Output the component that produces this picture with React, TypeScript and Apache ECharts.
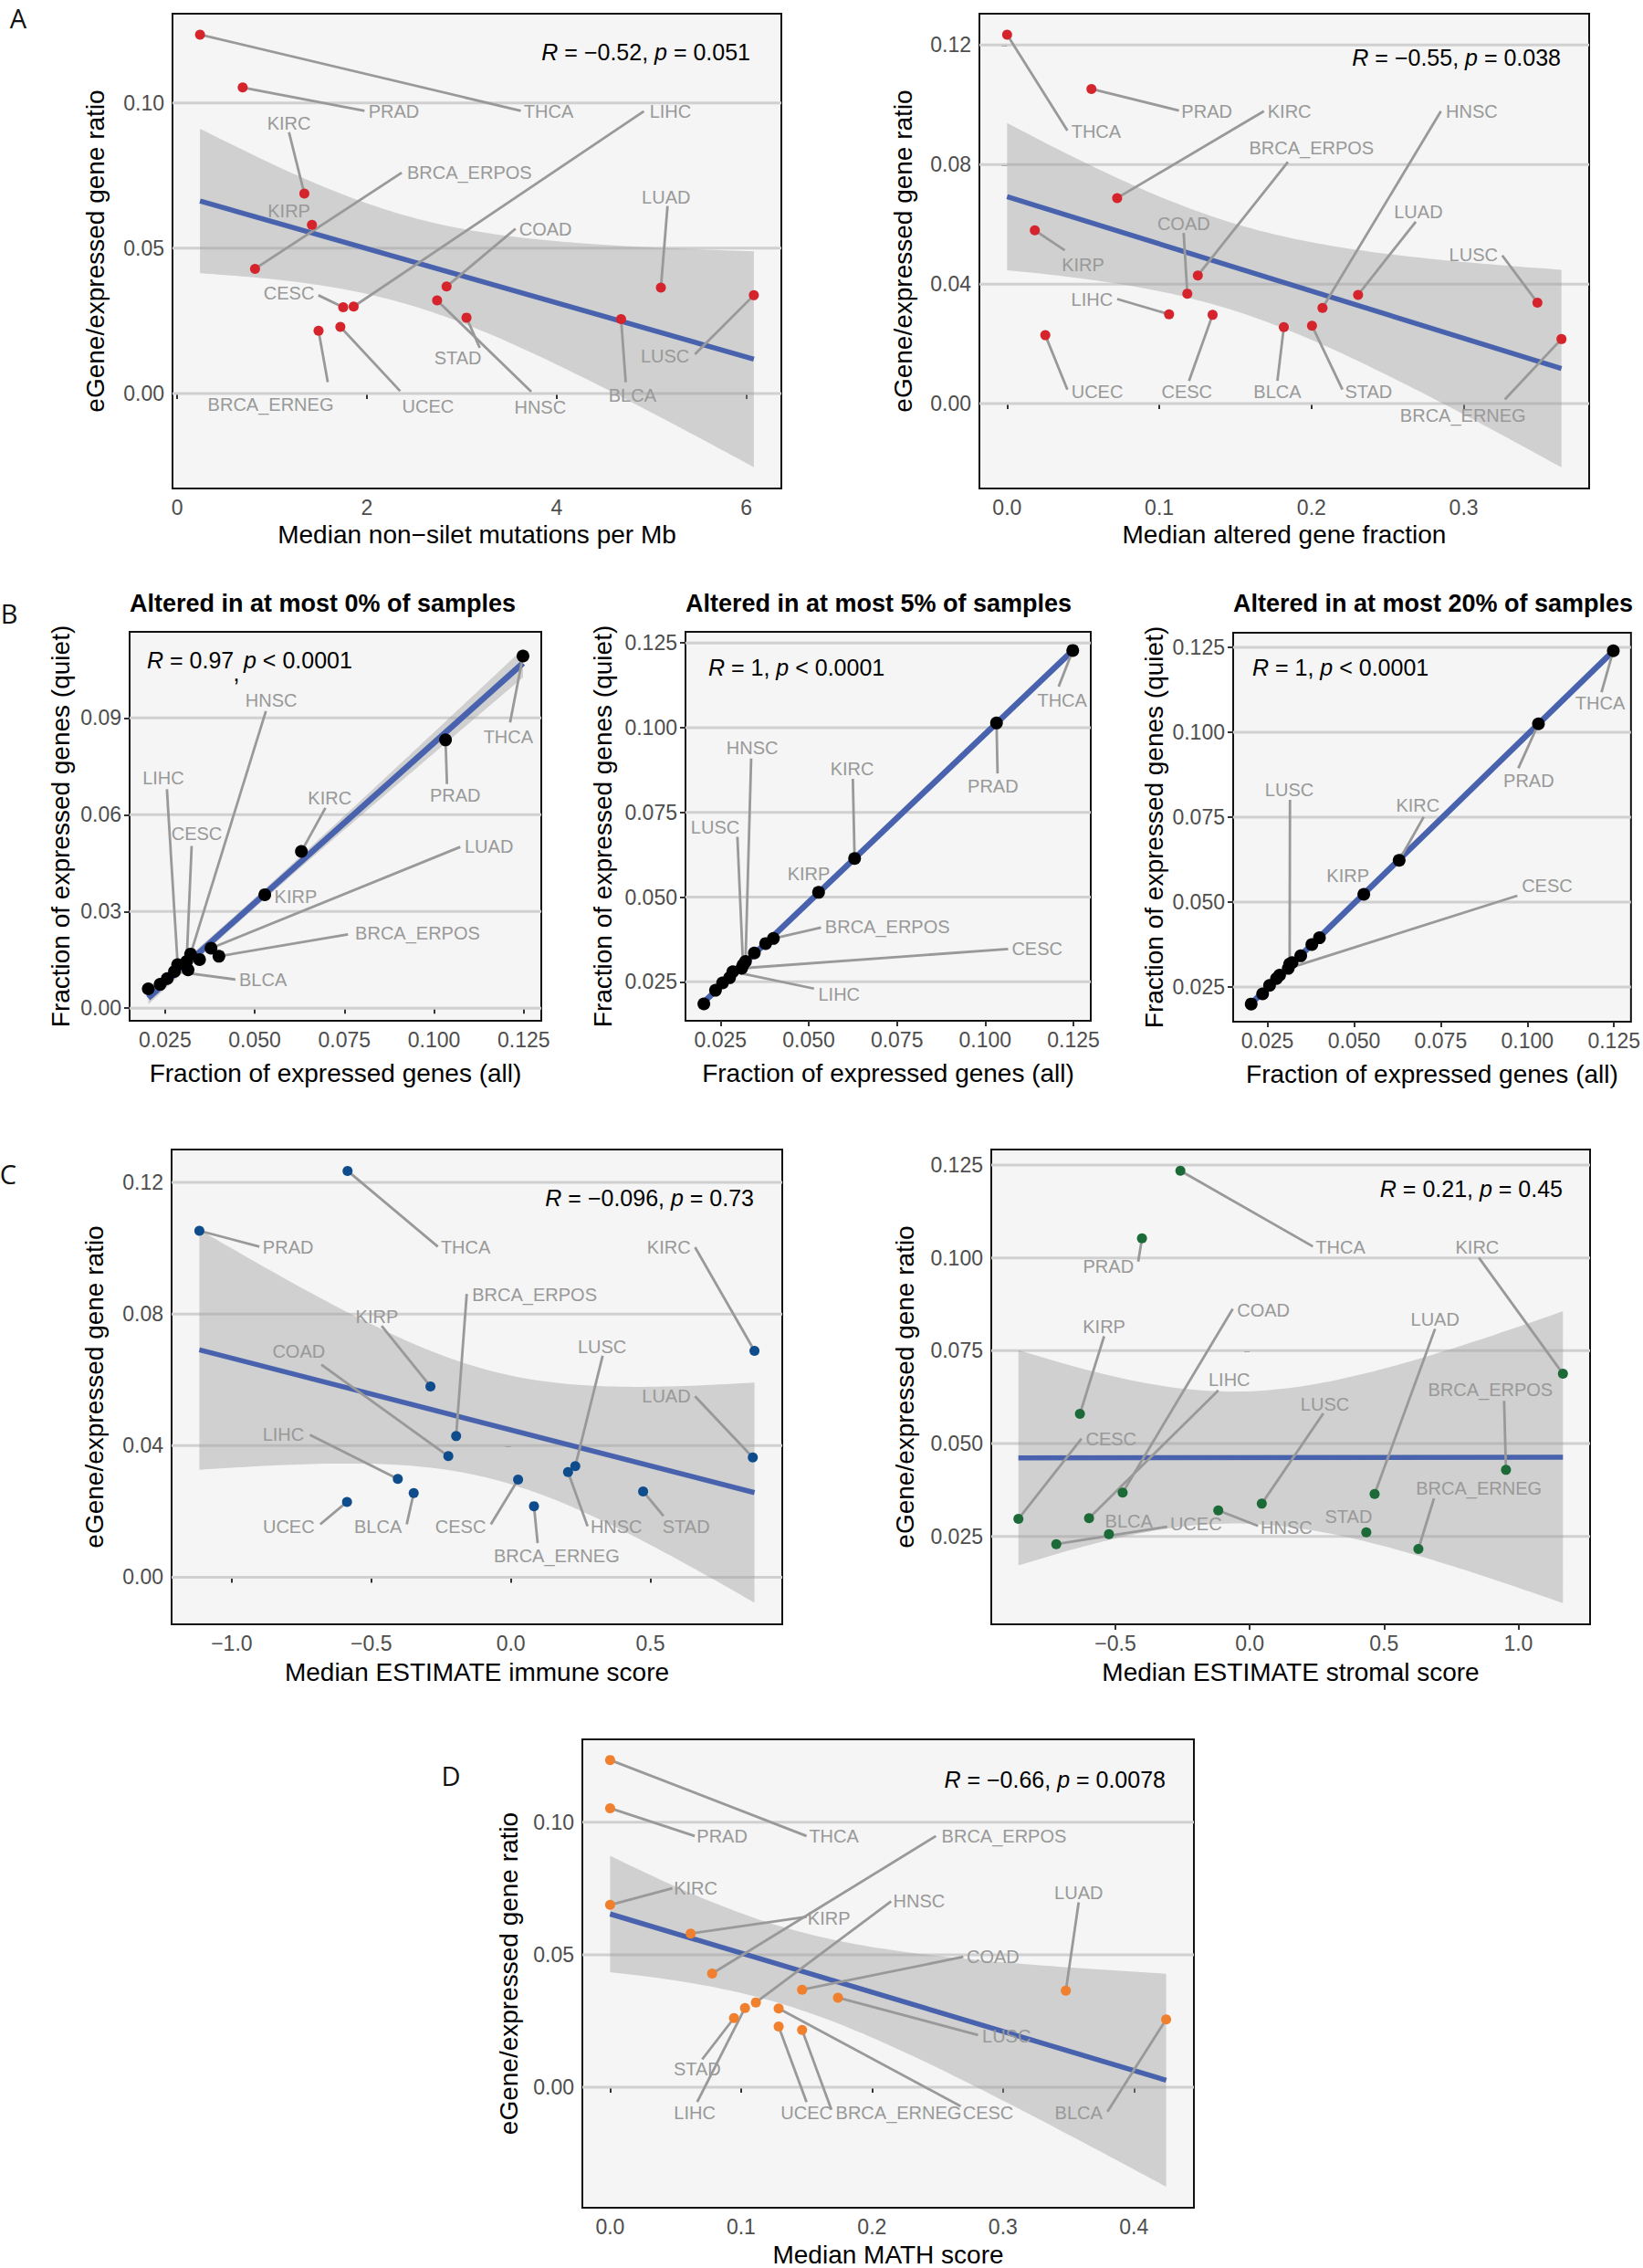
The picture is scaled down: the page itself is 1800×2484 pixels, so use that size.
import React, { useEffect, useRef } from "react";
import * as echarts from "echarts";

const FONT = "'Liberation Sans', Arial, Helvetica, sans-serif";

// ---------------- data ----------------
const cancers = ["THCA", "PRAD", "KIRC", "KIRP", "BRCA_ERPOS", "COAD", "LUAD", "LUSC", "HNSC", "CESC", "LIHC", "STAD", "BLCA", "UCEC", "BRCA_ERNEG"];

const eGeneRatio = [0.1235, 0.1053, 0.0688, 0.0580, 0.0429, 0.0368, 0.0364, 0.0338, 0.0320, 0.0297, 0.0299, 0.0261, 0.0256, 0.0229, 0.0216];
const mutationsPerMb = [0.24, 0.69, 1.34, 1.42, 0.82, 2.84, 5.10, 6.08, 2.74, 1.75, 1.86, 3.05, 4.68, 1.72, 1.49];
const alteredFraction = [0.0, 0.0554, 0.0723, 0.0182, 0.1253, 0.1184, 0.2306, 0.3484, 0.2072, 0.1350, 0.1064, 0.2003, 0.1818, 0.0251, 0.3642];
const immuneScore = [-0.585, -1.116, 0.873, -0.288, -0.196, -0.224, 0.867, 0.231, 0.205, 0.026, -0.405, 0.474, -0.348, -0.587, 0.083];
const stromalScore = [-0.258, -0.401, 1.166, -0.632, 0.954, -0.473, 0.465, 0.045, -0.117, -0.861, -0.598, 0.434, -0.524, -0.720, 0.628];
const mathScore = [0.0, 0.0, 0.0, 0.0615, 0.0779, 0.1466, 0.348, 0.174, 0.1113, 0.1287, 0.103, 0.0946, 0.4246, 0.1287, 0.1466];

const fracAll = [0.1248, 0.1032, 0.0630, 0.0528, 0.0400, 0.0346, 0.0378, 0.0314, 0.0321, 0.0310, 0.0285, 0.0256, 0.0276, 0.0236, 0.0203];
const fracQuiet0 = [0.1092, 0.0832, 0.0486, 0.0352, 0.0161, 0.0151, 0.0186, 0.0119, 0.0168, 0.0145, 0.0135, 0.0092, 0.0114, 0.0074, 0.0060];
const fracQuiet5 = [0.1228, 0.1014, 0.0614, 0.0514, 0.0378, 0.0335, 0.0363, 0.0300, 0.0310, 0.0290, 0.0280, 0.0247, 0.0262, 0.0225, 0.0185];
const fracQuiet20 = [0.1240, 0.1025, 0.0623, 0.0523, 0.0395, 0.0342, 0.0375, 0.0318, 0.0322, 0.0305, 0.0285, 0.0255, 0.0275, 0.0230, 0.0200];

// tick values
const ticksMut = [0, 2, 4, 6];
const ticksRatio005 = [0, 0.05, 0.1];
const ticksAltered = [0, 0.1, 0.2, 0.3];
const ticksRatio004 = [0, 0.04, 0.08, 0.12];
const ticksFrac = [0.025, 0.05, 0.075, 0.1, 0.125];
const ticksQuiet0 = [0, 0.03, 0.06, 0.09];
const ticksImmune = [-1, -0.5, 0, 0.5];
const ticksStromal = [-0.5, 0, 0.5, 1];
const ticksRatio025 = [0.025, 0.05, 0.075, 0.1, 0.125];
const ticksMath = [0, 0.1, 0.2, 0.3, 0.4];

// repelled labels: [cancer, labelX, labelY, segmentEndX, segmentEndY]
type Lab = [string, number, number, number | null, number | null];

const labelsMut: Lab[] = [
  ["THCA", 3.916, 0.0971, 3.623, 0.0973],
  ["PRAD", 2.284, 0.0971, 1.975, 0.0973],
  ["LIHC", 5.2, 0.0971, 4.92, 0.0971],
  ["KIRC", 1.178, 0.0929, 1.178, 0.0899],
  ["BRCA_ERPOS", 3.081, 0.076, 2.367, 0.076],
  ["LUAD", 5.155, 0.0676, 5.17, 0.0645],
  ["KIRP", 1.178, 0.0627, null, null],
  ["COAD", 3.883, 0.0565, 3.567, 0.0567],
  ["CESC", 1.178, 0.0344, 1.488, 0.0338],
  ["STAD", 2.959, 0.0123, 3.19, 0.0157],
  ["LUSC", 5.144, 0.013, 5.459, 0.0135],
  ["BRCA_ERNEG", 0.985, -0.0039, 1.587, 0.0039],
  ["UCEC", 2.644, -0.0045, 2.351, 0.0008],
  ["HNSC", 3.827, -0.0048, 3.733, 0.0006],
  ["BLCA", 4.8, -0.0008, 4.729, 0.0039],
];

const labelsAltered: Lab[] = [
  ["THCA", 0.0585, 0.0912, 0.0396, 0.0914],
  ["PRAD", 0.1312, 0.0979, 0.1129, 0.0981],
  ["KIRC", 0.1855, 0.0979, 0.1687, 0.0979],
  ["BRCA_ERPOS", 0.2, 0.0855, 0.1845, 0.0809],
  ["HNSC", 0.3053, 0.0979, 0.285, 0.0979],
  ["COAD", 0.116, 0.0601, 0.116, 0.0571],
  ["LUAD", 0.2702, 0.0643, 0.2685, 0.0609],
  ["LUSC", 0.3064, 0.0498, 0.3253, 0.0496],
  ["KIRP", 0.0499, 0.0466, 0.0379, 0.0513],
  ["LIHC", 0.0558, 0.035, 0.0723, 0.035],
  ["UCEC", 0.0592, 0.0039, 0.0396, 0.0047],
  ["CESC", 0.1181, 0.0039, 0.1195, 0.0076],
  ["BLCA", 0.1776, 0.0039, 0.1776, 0.0076],
  ["STAD", 0.2375, 0.0039, 0.2203, 0.0047],
  ["BRCA_ERNEG", 0.2995, -0.0039, 0.327, 0.0014],
];

const labelsQuiet0: Lab[] = [
  ["HNSC", 0.0546, 0.0956, 0.0531, 0.0921],
  ["LIHC", 0.0245, 0.0714, 0.0255, 0.0679],
  ["CESC", 0.0338, 0.0542, 0.0324, 0.0503],
  ["KIRC", 0.0709, 0.0651, 0.0697, 0.0621],
  ["THCA", 0.1207, 0.0842, 0.1212, 0.0886],
  ["PRAD", 0.1059, 0.0661, 0.1036, 0.0695],
  ["LUAD", 0.1153, 0.0502, 0.1073, 0.05],
  ["KIRP", 0.0614, 0.0345, null, null],
  ["BRCA_ERPOS", 0.0954, 0.0234, 0.076, 0.0229],
  ["BLCA", 0.0523, 0.0089, 0.0446, 0.0089],
];

const labelsQuiet5: Lab[] = [
  ["THCA", 0.1218, 0.108, 0.1208, 0.1121],
  ["PRAD", 0.1022, 0.0827, 0.1035, 0.0865],
  ["KIRC", 0.0623, 0.0879, 0.0625, 0.0849],
  ["HNSC", 0.034, 0.094, 0.0337, 0.0909],
  ["LUSC", 0.0235, 0.0706, 0.0298, 0.0678],
  ["KIRP", 0.05, 0.0569, null, null],
  ["BRCA_ERPOS", 0.0723, 0.0412, 0.0535, 0.041],
  ["CESC", 0.1147, 0.0347, 0.1065, 0.0347],
  ["LIHC", 0.0586, 0.0212, 0.0515, 0.023],
];

const labelsQuiet20: Lab[] = [
  ["THCA", 0.121, 0.1085, 0.1214, 0.1118],
  ["PRAD", 0.1004, 0.0858, 0.0974, 0.0894],
  ["KIRC", 0.0684, 0.0786, 0.0701, 0.0751],
  ["KIRP", 0.0482, 0.0578, null, null],
  ["LUSC", 0.0313, 0.0831, 0.0315, 0.0801],
  ["CESC", 0.1057, 0.0548, 0.0971, 0.0519],
];

const labelsImmune: Lab[] = [
  ["PRAD", -0.798, 0.1003, -0.901, 0.1005],
  ["THCA", -0.162, 0.1003, -0.2615, 0.1005],
  ["KIRC", 0.566, 0.1003, 0.66, 0.1003],
  ["BRCA_ERPOS", 0.085, 0.0859, -0.158, 0.0861],
  ["KIRP", -0.48, 0.0792, -0.463, 0.0764],
  ["COAD", -0.76, 0.0686, -0.679, 0.0646],
  ["LUSC", 0.327, 0.07, 0.329, 0.0673],
  ["LUAD", 0.557, 0.0551, 0.66, 0.055],
  ["LIHC", -0.815, 0.0433, -0.72, 0.0433],
  ["UCEC", -0.796, 0.0153, -0.683, 0.0161],
  ["BLCA", -0.476, 0.0153, -0.373, 0.0161],
  ["CESC", -0.18, 0.0153, -0.0715, 0.0161],
  ["HNSC", 0.378, 0.0153, 0.275, 0.0155],
  ["STAD", 0.628, 0.0155, 0.547, 0.0186],
  ["BRCA_ERNEG", 0.164, 0.0065, 0.096, 0.0104],
];

const labelsStromal: Lab[] = [
  ["THCA", 0.338, 0.1029, 0.235, 0.1031],
  ["KIRC", 0.847, 0.1029, 0.853, 0.1001],
  ["PRAD", -0.526, 0.0978, -0.415, 0.099],
  ["COAD", 0.051, 0.086, -0.063, 0.0863],
  ["KIRP", -0.542, 0.0814, -0.542, 0.0789],
  ["LUAD", 0.69, 0.0834, 0.69, 0.0809],
  ["LIHC", -0.076, 0.0673, -0.117, 0.0643],
  ["LUSC", 0.28, 0.0605, 0.274, 0.0581],
  ["BRCA_ERPOS", 0.896, 0.0645, 0.947, 0.0615],
  ["CESC", -0.516, 0.0513, -0.626, 0.0513],
  ["BRCA_ERNEG", 0.853, 0.0379, 0.686, 0.0352],
  ["BLCA", -0.45, 0.0291, null, null],
  ["UCEC", -0.2, 0.0284, -0.307, 0.0276],
  ["HNSC", 0.137, 0.0273, 0.031, 0.0278],
  ["STAD", 0.368, 0.0304, null, null],
];

const labelsMath: Lab[] = [
  ["PRAD", 0.0855, 0.0948, 0.0646, 0.0948],
  ["THCA", 0.1709, 0.0948, 0.15, 0.0948],
  ["BRCA_ERPOS", 0.3008, 0.0948, 0.2488, 0.0948],
  ["KIRC", 0.0653, 0.0751, 0.0475, 0.0751],
  ["HNSC", 0.2359, 0.0702, 0.2146, 0.0702],
  ["LUAD", 0.3578, 0.0735, 0.3578, 0.0698],
  ["KIRP", 0.1671, 0.0639, 0.15, 0.0643],
  ["COAD", 0.2924, 0.0492, 0.2697, 0.0492],
  ["LUSC", 0.3027, 0.0193, 0.281, 0.0197],
  ["STAD", 0.0665, 0.0068, 0.0703, 0.0105],
  ["LIHC", 0.0646, -0.0096, 0.0665, -0.0056],
  ["UCEC", 0.15, -0.0096, 0.15, -0.0056],
  ["BRCA_ERNEG", 0.2203, -0.0096, 0.169, -0.0085],
  ["CESC", 0.2886, -0.0096, 0.2678, -0.0072],
  ["BLCA", 0.3578, -0.0096, 0.3798, -0.0092],
];

// ---------------- layout ----------------
interface Panel {
  left: number; top: number; width: number; height: number;
  xs: number[]; ys: number[];
  xMin: number; xMax: number; yMin: number; yMax: number;
  xTicks: number[]; yTicks: number[]; xDec: number; yDec: number;
  xName: string; yName: string; xNameGap: number; yNameGap: number;
  color: string; size: number; lineWidth: number; labels: Lab[];
}

const YLAB = "eGene/expressed gene ratio";
const YQ = "Fraction of expressed genes (quiet)";
const XA = "Fraction of expressed genes (all)";

const panels: Panel[] = [
  { left: 189, top: 15, width: 667, height: 520, xs: mutationsPerMb, ys: eGeneRatio, xMin: -0.05, xMax: 6.37, yMin: -0.0327, yMax: 0.1307,
    xTicks: ticksMut, yTicks: ticksRatio005, xDec: 0, yDec: 2, xName: "Median non\u2212silet mutations per Mb", yName: YLAB, xNameGap: 36, yNameGap: 71,
    color: "#D5242B", size: 11, lineWidth: 5.5, labels: labelsMut },
  { left: 1073, top: 15, width: 668, height: 520, xs: alteredFraction, ys: eGeneRatio, xMin: -0.0182, xMax: 0.3824, yMin: -0.0284, yMax: 0.1305,
    xTicks: ticksAltered, yTicks: ticksRatio004, xDec: 1, yDec: 2, xName: "Median altered gene fraction", yName: YLAB, xNameGap: 36, yNameGap: 70,
    color: "#D5242B", size: 11, lineWidth: 5.5, labels: labelsAltered },
  { left: 142, top: 692, width: 451, height: 426, xs: fracAll, ys: fracQuiet0, xMin: 0.0151, xMax: 0.1299, yMin: -0.0039, yMax: 0.1167,
    xTicks: ticksFrac, yTicks: ticksQuiet0, xDec: 3, yDec: 2, xName: XA, yName: YQ, xNameGap: 43, yNameGap: 62,
    color: "#000000", size: 14, lineWidth: 6.5, labels: labelsQuiet0 },
  { left: 751, top: 692, width: 444, height: 426, xs: fracAll, ys: fracQuiet5, xMin: 0.0151, xMax: 0.1299, yMin: 0.0135, yMax: 0.1283,
    xTicks: ticksFrac, yTicks: ticksFrac, xDec: 3, yDec: 3, xName: XA, yName: YQ, xNameGap: 43, yNameGap: 77,
    color: "#000000", size: 14, lineWidth: 6.5, labels: labelsQuiet5 },
  { left: 1351, top: 693, width: 442, height: 426, xs: fracAll, ys: fracQuiet20, xMin: 0.0151, xMax: 0.1299, yMin: 0.0148, yMax: 0.1293,
    xTicks: ticksFrac, yTicks: ticksFrac, xDec: 3, yDec: 3, xName: XA, yName: YQ, xNameGap: 43, yNameGap: 73,
    color: "#000000", size: 14, lineWidth: 6.5, labels: labelsQuiet20 },
  { left: 188, top: 1259, width: 669, height: 520, xs: immuneScore, ys: eGeneRatio, xMin: -1.2155, xMax: 0.9725, yMin: -0.0143, yMax: 0.130,
    xTicks: ticksImmune, yTicks: ticksRatio004, xDec: 1, yDec: 2, xName: "Median ESTIMATE immune score", yName: YLAB, xNameGap: 38, yNameGap: 71,
    color: "#0E4C8B", size: 11, lineWidth: 5.5, labels: labelsImmune },
  { left: 1086, top: 1259, width: 656, height: 520, xs: stromalScore, ys: eGeneRatio, xMin: -0.962, xMax: 1.267, yMin: 0.0013, yMax: 0.1292,
    xTicks: ticksStromal, yTicks: ticksRatio025, xDec: 1, yDec: 3, xName: "Median ESTIMATE stromal score", yName: YLAB, xNameGap: 38, yNameGap: 81,
    color: "#1B6A37", size: 11, lineWidth: 5.5, labels: labelsStromal },
  { left: 638, top: 1905, width: 670, height: 521, xs: mathScore, ys: eGeneRatio, xMin: -0.0212, xMax: 0.4458, yMin: -0.0455, yMax: 0.1313,
    xTicks: ticksMath, yTicks: ticksRatio005, xDec: 1, yDec: 2, xName: "Median MATH score", yName: YLAB, xNameGap: 37, yNameGap: 67,
    color: "#F07F2E", size: 11, lineWidth: 5.5, labels: labelsMath },
];

// ---------------- helpers ----------------
function fmt(v: number, dec: number) {
  const s = Math.abs(v).toFixed(dec);
  return v < -1e-9 ? "\u2212" + s : s;
}

const T975: Record<number, number> = { 13: 2.1604 };

// ordinary least squares fit with 95% confidence band (as geom_smooth(method = "lm"))
function lmFit(xs: number[], ys: number[]) {
  const n = xs.length;
  const mx = xs.reduce((a, b) => a + b, 0) / n;
  const my = ys.reduce((a, b) => a + b, 0) / n;
  let sxx = 0, sxy = 0;
  for (let i = 0; i < n; i++) {
    sxx += (xs[i] - mx) * (xs[i] - mx);
    sxy += (xs[i] - mx) * (ys[i] - my);
  }
  const b = sxy / sxx;
  const a = my - b * mx;
  let sse = 0;
  for (let i = 0; i < n; i++) {
    const r = ys[i] - (a + b * xs[i]);
    sse += r * r;
  }
  const s = Math.sqrt(sse / (n - 2));
  const t = T975[n - 2] || 2.16;
  const x0 = Math.min(...xs);
  const x1 = Math.max(...xs);
  const band: number[][] = [];
  const N = 80;
  for (let k = 0; k < N; k++) {
    const x = x0 + ((x1 - x0) * k) / (N - 1);
    const yh = a + b * x;
    const se = s * Math.sqrt(1 / n + ((x - mx) * (x - mx)) / sxx);
    band.push([x, yh - t * se, yh + t * se]);
  }
  return { a, b, x0, x1, band };
}

function buildOption() {
  const grid: any[] = [];
  const xAxis: any[] = [];
  const yAxis: any[] = [];
  const series: any[] = [];

  panels.forEach((p, i) => {
    grid.push({
      left: p.left, top: p.top, width: p.width, height: p.height,
      show: true, backgroundColor: "#F4F5F4", borderColor: "#111111", borderWidth: 2,
    });
    xAxis.push({
      type: "value", gridIndex: i, min: p.xMin, max: p.xMax,
      axisLine: { show: false }, splitLine: { show: false },
      axisTick: { show: true, customValues: p.xTicks, length: 6, lineStyle: { color: "#333333", width: 2 } },
      axisLabel: { customValues: p.xTicks, formatter: (v: number) => fmt(v, p.xDec), color: "#4D4D4D", fontSize: 23, margin: 9, fontFamily: FONT },
      name: p.xName, nameLocation: "middle", nameGap: p.xNameGap,
      nameTextStyle: { fontSize: 28, color: "#000000", fontFamily: FONT },
    });
    yAxis.push({
      type: "value", gridIndex: i, min: p.yMin, max: p.yMax,
      axisLine: { show: false }, splitLine: { show: false },
      axisTick: { show: true, customValues: p.yTicks, length: 6, lineStyle: { color: "#333333", width: 2 } },
      axisLabel: { customValues: p.yTicks, formatter: (v: number) => fmt(v, p.yDec), color: "#4D4D4D", fontSize: 23, margin: 9, fontFamily: FONT },
      name: p.yName, nameLocation: "middle", nameGap: p.yNameGap,
      nameTextStyle: { fontSize: 28, color: "#000000", fontFamily: FONT },
    });

    const f = lmFit(p.xs, p.ys);

    // gridlines + confidence ribbon
    series.push({
      type: "custom", xAxisIndex: i, yAxisIndex: i, z: 1, silent: true,
      data: [[f.x0, f.a + f.b * f.x0]],
      renderItem: (_params: any, api: any) => {
        const children: any[] = [];
        p.yTicks.forEach((t) => {
          const s0 = api.coord([p.xMin, t]);
          const s1 = api.coord([p.xMax, t]);
          children.push({ type: "line", shape: { x1: s0[0], y1: s0[1], x2: s1[0], y2: s1[1] }, style: { stroke: "#D0D0D0", lineWidth: 3 } });
        });
        const up = f.band.map((r) => api.coord([r[0], r[2]]));
        const lo = f.band.slice().reverse().map((r) => api.coord([r[0], r[1]]));
        children.push({ type: "polygon", shape: { points: up.concat(lo) }, style: { fill: "rgba(153,153,153,0.4)" } });
        return { type: "group", children };
      },
    });

    // regression line
    series.push({
      type: "line", xAxisIndex: i, yAxisIndex: i, z: 3, silent: true, symbol: "none",
      data: [[f.x0, f.a + f.b * f.x0], [f.x1, f.a + f.b * f.x1]],
      lineStyle: { color: "#4862AD", width: p.lineWidth },
    });

    // repel segments
    const segs = p.labels
      .filter((l) => l[3] !== null)
      .map((l) => {
        const k = cancers.indexOf(l[0]);
        return [p.xs[k], p.ys[k], l[3] as number, l[4] as number];
      });
    series.push({
      type: "custom", xAxisIndex: i, yAxisIndex: i, z: 4, silent: true,
      data: segs,
      renderItem: (_params: any, api: any) => {
        const s0 = api.coord([api.value(0), api.value(1)]);
        const s1 = api.coord([api.value(2), api.value(3)]);
        return { type: "line", shape: { x1: s0[0], y1: s0[1], x2: s1[0], y2: s1[1] }, style: { stroke: "#999999", lineWidth: 2.8 } };
      },
    });

    // labels
    series.push({
      type: "custom", xAxisIndex: i, yAxisIndex: i, z: 5, silent: true,
      data: p.labels.map((l) => [l[1], l[2]]),
      renderItem: (params: any, api: any) => {
        const c = api.coord([api.value(0), api.value(1)]);
        return {
          type: "text", x: c[0], y: c[1],
          style: { text: p.labels[params.dataIndex][0], fill: "#999999", fontSize: 20, fontFamily: FONT, align: "center", verticalAlign: "middle" },
        };
      },
    });

    // points
    series.push({
      type: "scatter", xAxisIndex: i, yAxisIndex: i, z: 6, silent: true,
      data: p.xs.map((x, k) => [x, p.ys[k]]),
      symbolSize: p.size, itemStyle: { color: p.color, opacity: 1 },
    });
  });

  const rich = { i: { fontStyle: "italic", fontSize: 25, fontFamily: FONT, fill: "#000" } };
  const ann = (x: number, y: number, text: string, align: string) => ({
    type: "text", x, y, z: 10,
    style: { text, rich, fontSize: 25, fontFamily: FONT, fill: "#000", align, verticalAlign: "middle" },
  });
  const letter = (x: number, y: number, text: string) => ({
    type: "text", x, y, z: 10,
    style: { text, fontSize: 29, fontFamily: "'Open Sans', 'Liberation Sans', sans-serif", fill: "#111", align: "center", verticalAlign: "middle" },
  });
  const title = (x: number, y: number, text: string) => ({
    type: "text", x, y, z: 10,
    style: { text, fontSize: 27, fontWeight: "bold", fontFamily: FONT, fill: "#000", align: "left", verticalAlign: "middle" },
  });

  const graphic = [
    letter(20, 19, "A"),
    letter(10, 671, "B"),
    letter(9, 1285, "C"),
    letter(494, 1944, "D"),
    title(142, 661, "Altered in at most 0% of samples"),
    title(751, 661, "Altered in at most 5% of samples"),
    title(1351, 661, "Altered in at most 20% of samples"),
    ann(822, 57, "{i|R} = \u22120.52, {i|p} = 0.051", "right"),
    ann(1710, 63, "{i|R} = \u22120.55, {i|p} = 0.038", "right"),
    ann(161, 723, "{i|R} = 0.97", "left"),
    ann(259, 737, ",", "center"),
    ann(267, 723, "{i|p} < 0.0001", "left"),
    ann(776, 731, "{i|R} = 1, {i|p} < 0.0001", "left"),
    ann(1372, 731, "{i|R} = 1, {i|p} < 0.0001", "left"),
    ann(826, 1312, "{i|R} = \u22120.096, {i|p} = 0.73", "right"),
    ann(1712, 1302, "{i|R} = 0.21, {i|p} = 0.45", "right"),
    ann(1277, 1949, "{i|R} = \u22120.66, {i|p} = 0.0078", "right"),
  ];

  return {
    animation: false,
    backgroundColor: "#FFFFFF",
    grid, xAxis, yAxis, series, graphic,
  };
}

export default function App() {
  const ref = useRef<HTMLDivElement>(null);
  useEffect(() => {
    if (!ref.current) return;
    const chart = echarts.init(ref.current, undefined, { renderer: "svg" });
    chart.setOption(buildOption() as any);
    return () => chart.dispose();
  }, []);
  return <div ref={ref} style={{ position: "absolute", left: 0, top: 0, width: 1800, height: 2484 }} />;
}
